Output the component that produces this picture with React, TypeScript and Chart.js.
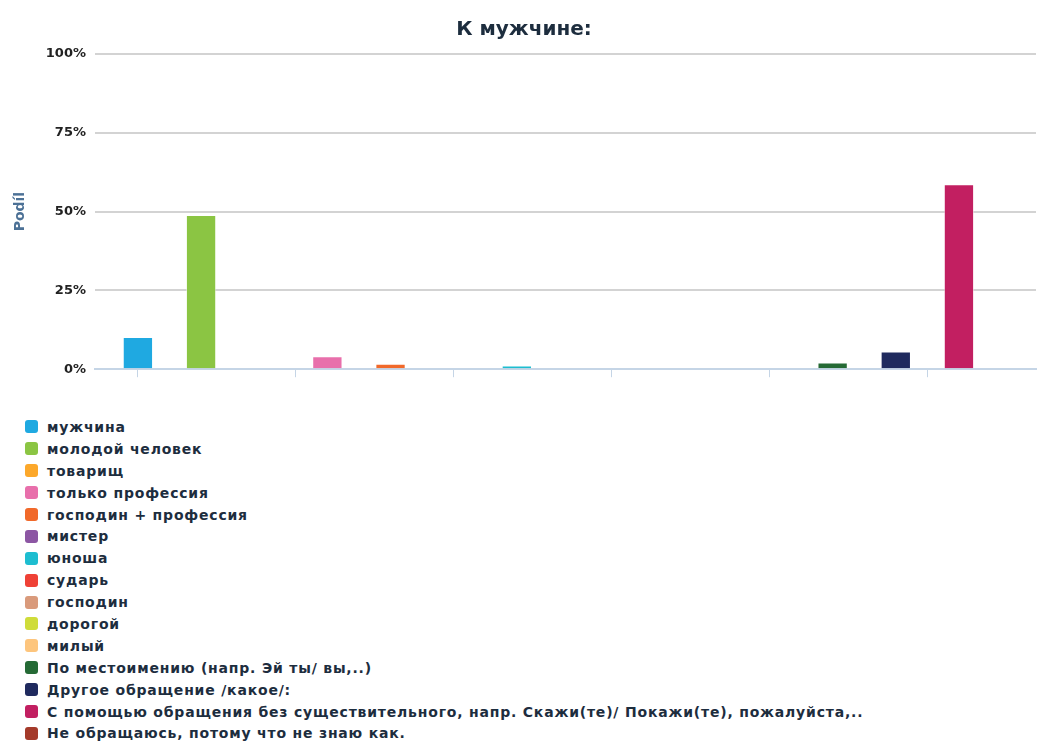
import React, { useEffect, useRef } from "react";
import { Chart, registerables } from "chart.js";

Chart.register(...registerables);

const seriesLabels: string[] = [
  "мужчина",
  "молодой человек",
  "товарищ",
  "только профессия",
  "господин + профессия",
  "мистер",
  "юноша",
  "сударь",
  "господин",
  "дорогой",
  "милый",
  "По местоимению (напр. Эй ты/ вы,..)",
  "Другое обращение /какое/:",
  "С помощью обращения без существительного, напр. Скажи(те)/ Покажи(те), пожалуйста,..",
  "Не обращаюсь, потому что не знаю как.",
];

const seriesValues: number[] = [10.2, 48.9, 0, 4.1, 1.7, 0, 1.2, 0, 0, 0, 0, 2.1, 5.6, 58.7, 0];

const seriesColors: string[] = [
  "#1fa9e1",
  "#8bc543",
  "#fca82b",
  "#e86fab",
  "#f1692a",
  "#8c56a3",
  "#1dbdd0",
  "#ef4136",
  "#d99a7b",
  "#cfdc3a",
  "#fdc57d",
  "#256a35",
  "#1f2a5e",
  "#c21f61",
  "#a43a2a",
];

const yTicks: number[] = [0, 25, 50, 75, 100];
const xTickValues: number[] = [0, 2.5, 5, 7.5, 10, 12.5];

const FONT = "'DejaVu Sans', sans-serif";

export default function App() {
  const canvasRef = useRef<HTMLCanvasElement | null>(null);

  useEffect(() => {
    if (!canvasRef.current) return;
    const datasets = seriesLabels.map((label, i) => ({
      label,
      data: [{ x: i, y: seriesValues[i] }],
      backgroundColor: seriesColors[i],
      borderColor: "rgba(255,255,255,0.5)",
      borderWidth: 1,
      grouped: false,
      barPercentage: 0.48,
      categoryPercentage: 1,
    }));
    const chart = new Chart(canvasRef.current, {
      type: "bar",
      data: { datasets },
      options: {
        animation: false,
        responsive: true,
        maintainAspectRatio: false,
        layout: { padding: { left: 4, right: 6, top: 0, bottom: 0 } },
        plugins: {
          legend: { display: false },
          tooltip: { enabled: false },
          title: {
            display: true,
            text: "К мужчине:",
            color: "#1d2d3e",
            font: { family: FONT, size: 20, weight: "bold" },
            padding: { top: 10, bottom: 12 },
          },
        },
        scales: {
          x: {
            type: "linear",
            offset: false,
            min: -0.68,
            max: 14.22,
            afterBuildTicks: (axis: any) => {
              axis.ticks = xTickValues.map((v) => ({ value: v }));
            },
            ticks: { display: false },
            grid: {
              offset: false,
              drawOnChartArea: false,
              drawTicks: true,
              tickLength: 8,
              color: "#c5d5e6",
            },
            border: { color: "#c5d5e6", width: 2 },
          },
          y: {
            min: 0,
            max: 100,
            afterBuildTicks: (axis: any) => {
              axis.ticks = yTicks.map((v) => ({ value: v }));
            },
            ticks: {
              color: "#222",
              font: { family: FONT, size: 13, weight: "bold" },
              padding: 9,
              callback: (v: any) => v + "%",
            },
            grid: { color: "#d3d3d3", drawTicks: false, lineWidth: 2 },
            border: { display: false },
            title: {
              display: true,
              text: "Podíl",
              color: "#4c7196",
              font: { family: FONT, size: 14, weight: "bold" },
              padding: { top: 0, bottom: 8 },
            },
          },
        },
      },
    });
    return () => chart.destroy();
  }, []);

  return (
    <div style={{ width: 1034, fontFamily: FONT }}>
      <div style={{ position: "relative", width: 1034, height: 378 }}>
        <canvas ref={canvasRef} />
      </div>
      <div style={{ paddingLeft: 17, marginTop: 30 }}>
        {seriesLabels.map((label, i) => (
          <div
            key={label}
            style={{
              display: "flex",
              alignItems: "center",
              height: 21.9,
              fontSize: 14,
              letterSpacing: 0.8,
              fontWeight: "bold",
              color: "#1d2d3e",
              whiteSpace: "nowrap",
            }}
          >
            <span
              style={{
                display: "inline-block",
                width: 13,
                height: 13,
                borderRadius: 3,
                background: seriesColors[i],
                marginRight: 9,
                flexShrink: 0,
              }}
            />
            {label}
          </div>
        ))}
      </div>
    </div>
  );
}
